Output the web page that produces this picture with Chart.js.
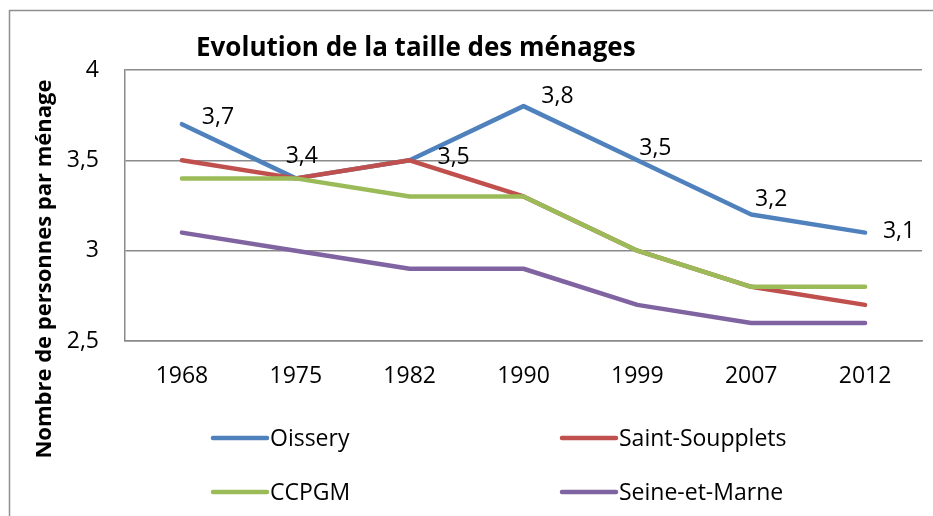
<!DOCTYPE html>
<html lang="fr">
<head>
    <meta charset="UTF-8">
    <title>Evolution de la taille des ménages</title>
    <style>
        html, body { margin: 0; padding: 0; background: #fff; overflow: hidden; }
        canvas { display: block; }
    </style>
</head>
<body>
    <canvas id="myChart" width="933" height="516"></canvas>

    <script src="https://cdn.jsdelivr.net/npm/chart.js@4.4.1/dist/chart.umd.min.js"></script>
    <script>
        // data
        var years = ['1968', '1975', '1982', '1990', '1999', '2007', '2012'];
        var oissery = [3.7, 3.4, 3.5, 3.8, 3.5, 3.2, 3.1];
        var saintSoupplets = [3.5, 3.4, 3.5, 3.3, 3.0, 2.8, 2.7];
        var ccpgm = [3.4, 3.4, 3.3, 3.3, 3.0, 2.8, 2.8];
        var seineEtMarne = [3.1, 3.0, 2.9, 2.9, 2.7, 2.6, 2.6];
        var yTicks = [2.5, 3, 3.5, 4];

        var FONT = '"Open Sans", "Liberation Sans", sans-serif';
        var GRID = '#8a8a8a';

        function frNum(v) {
            return String(v).replace('.', ',');
        }

        function lineSet(label, data, color, order) {
            return {
                label: label,
                data: data,
                borderColor: color,
                backgroundColor: color,
                borderWidth: 4.5,
                borderJoinStyle: 'round',
                borderCapStyle: 'round',
                tension: 0,
                pointRadius: 0,
                pointHoverRadius: 0,
                fill: false,
                order: order
            };
        }

        // frame, title, y title, labels on the first series, legend
        var decorations = {
            id: 'decorations',
            beforeDraw: function (chart) {
                var ctx = chart.ctx;
                ctx.save();
                ctx.strokeStyle = '#8f8f8f';
                ctx.lineWidth = 1.5;
                ctx.strokeRect(9.5, 10.5, 2000, 2000);
                ctx.restore();
            },
            afterDraw: function (chart, args, opts) {
                var ctx = chart.ctx;
                ctx.save();
                ctx.fillStyle = '#000';

                // title
                ctx.font = 'bold 26px ' + FONT;
                ctx.textAlign = 'left';
                ctx.textBaseline = 'alphabetic';
                ctx.fillText('Evolution de la taille des ménages', 196, 56);

                // y axis title
                ctx.save();
                ctx.translate(45, 269);
                ctx.rotate(-Math.PI / 2);
                ctx.font = 'bold 22px ' + FONT;
                ctx.textAlign = 'center';
                ctx.textBaseline = 'middle';
                ctx.fillText('Nombre de personnes par ménage', 0, 0);
                ctx.restore();

                // value labels for Oissery
                var meta = chart.getDatasetMeta(0);
                ctx.font = '23px ' + FONT;
                ctx.textAlign = 'center';
                ctx.textBaseline = 'alphabetic';
                meta.data.forEach(function (pt, i) {
                    var off = opts.labelOffsets[i];
                    ctx.fillText(frNum(chart.data.datasets[0].data[i]), pt.x + off[0], pt.y + off[1] + 8);
                });

                // legend, two columns
                var cols = [213, 562];
                var rows = [438, 492];
                chart.data.datasets.forEach(function (ds, i) {
                    var x = cols[i % 2];
                    var y = rows[Math.floor(i / 2)];
                    ctx.strokeStyle = ds.borderColor;
                    ctx.lineWidth = 4.5;
                    ctx.lineCap = 'round';
                    ctx.beginPath();
                    ctx.moveTo(x, y);
                    ctx.lineTo(x + 54, y);
                    ctx.stroke();
                    ctx.textAlign = 'left';
                    ctx.fillText(ds.label, x + 57, y + 8);
                });
                ctx.restore();
            }
        };

        var ctx = document.getElementById('myChart').getContext('2d');
        var myChart = new Chart(ctx, {
            type: 'line',
            data: {
                labels: years,
                datasets: [
                    lineSet('Oissery', oissery, '#4F81BD', 4),
                    lineSet('Saint-Soupplets', saintSoupplets, '#C0504D', 3),
                    lineSet('CCPGM', ccpgm, '#9BBB59', 2),
                    lineSet('Seine-et-Marne', seineEtMarne, '#8064A2', 1)
                ]
            },
            options: {
                responsive: false,
                animation: false,
                layout: { padding: { left: 0, right: 11, top: 70, bottom: 115 } },
                plugins: {
                    legend: { display: false },
                    title: { display: false },
                    tooltip: { enabled: false },
                    decorations: {
                        labelOffsets: [[36, -8], [6, -23], [44, -4], [34, -11], [18, -13], [20, -17], [34, -3]]
                    }
                },
                scales: {
                    x: {
                        offset: true,
                        grid: { display: false, drawTicks: false },
                        border: { display: true, color: GRID, width: 1.5 },
                        ticks: {
                            color: '#000',
                            font: { family: FONT, size: 23 },
                            padding: 22,
                            maxRotation: 0
                        },
                        afterFit: function (s) { s.height = 60; }
                    },
                    y: {
                        min: 2.5,
                        max: 4,
                        grid: { color: GRID, lineWidth: 1.5, drawTicks: false },
                        border: { display: true, color: GRID, width: 1.5 },
                        afterBuildTicks: function (s) {
                            s.ticks = yTicks.map(function (v) { return { value: v }; });
                        },
                        ticks: {
                            color: '#000',
                            font: { family: FONT, size: 23 },
                            padding: 26,
                            callback: function (v) { return frNum(v); }
                        },
                        afterFit: function (s) { s.width = 125; }
                    }
                }
            },
            plugins: [decorations]
        });
    </script>
</body>
</html>
